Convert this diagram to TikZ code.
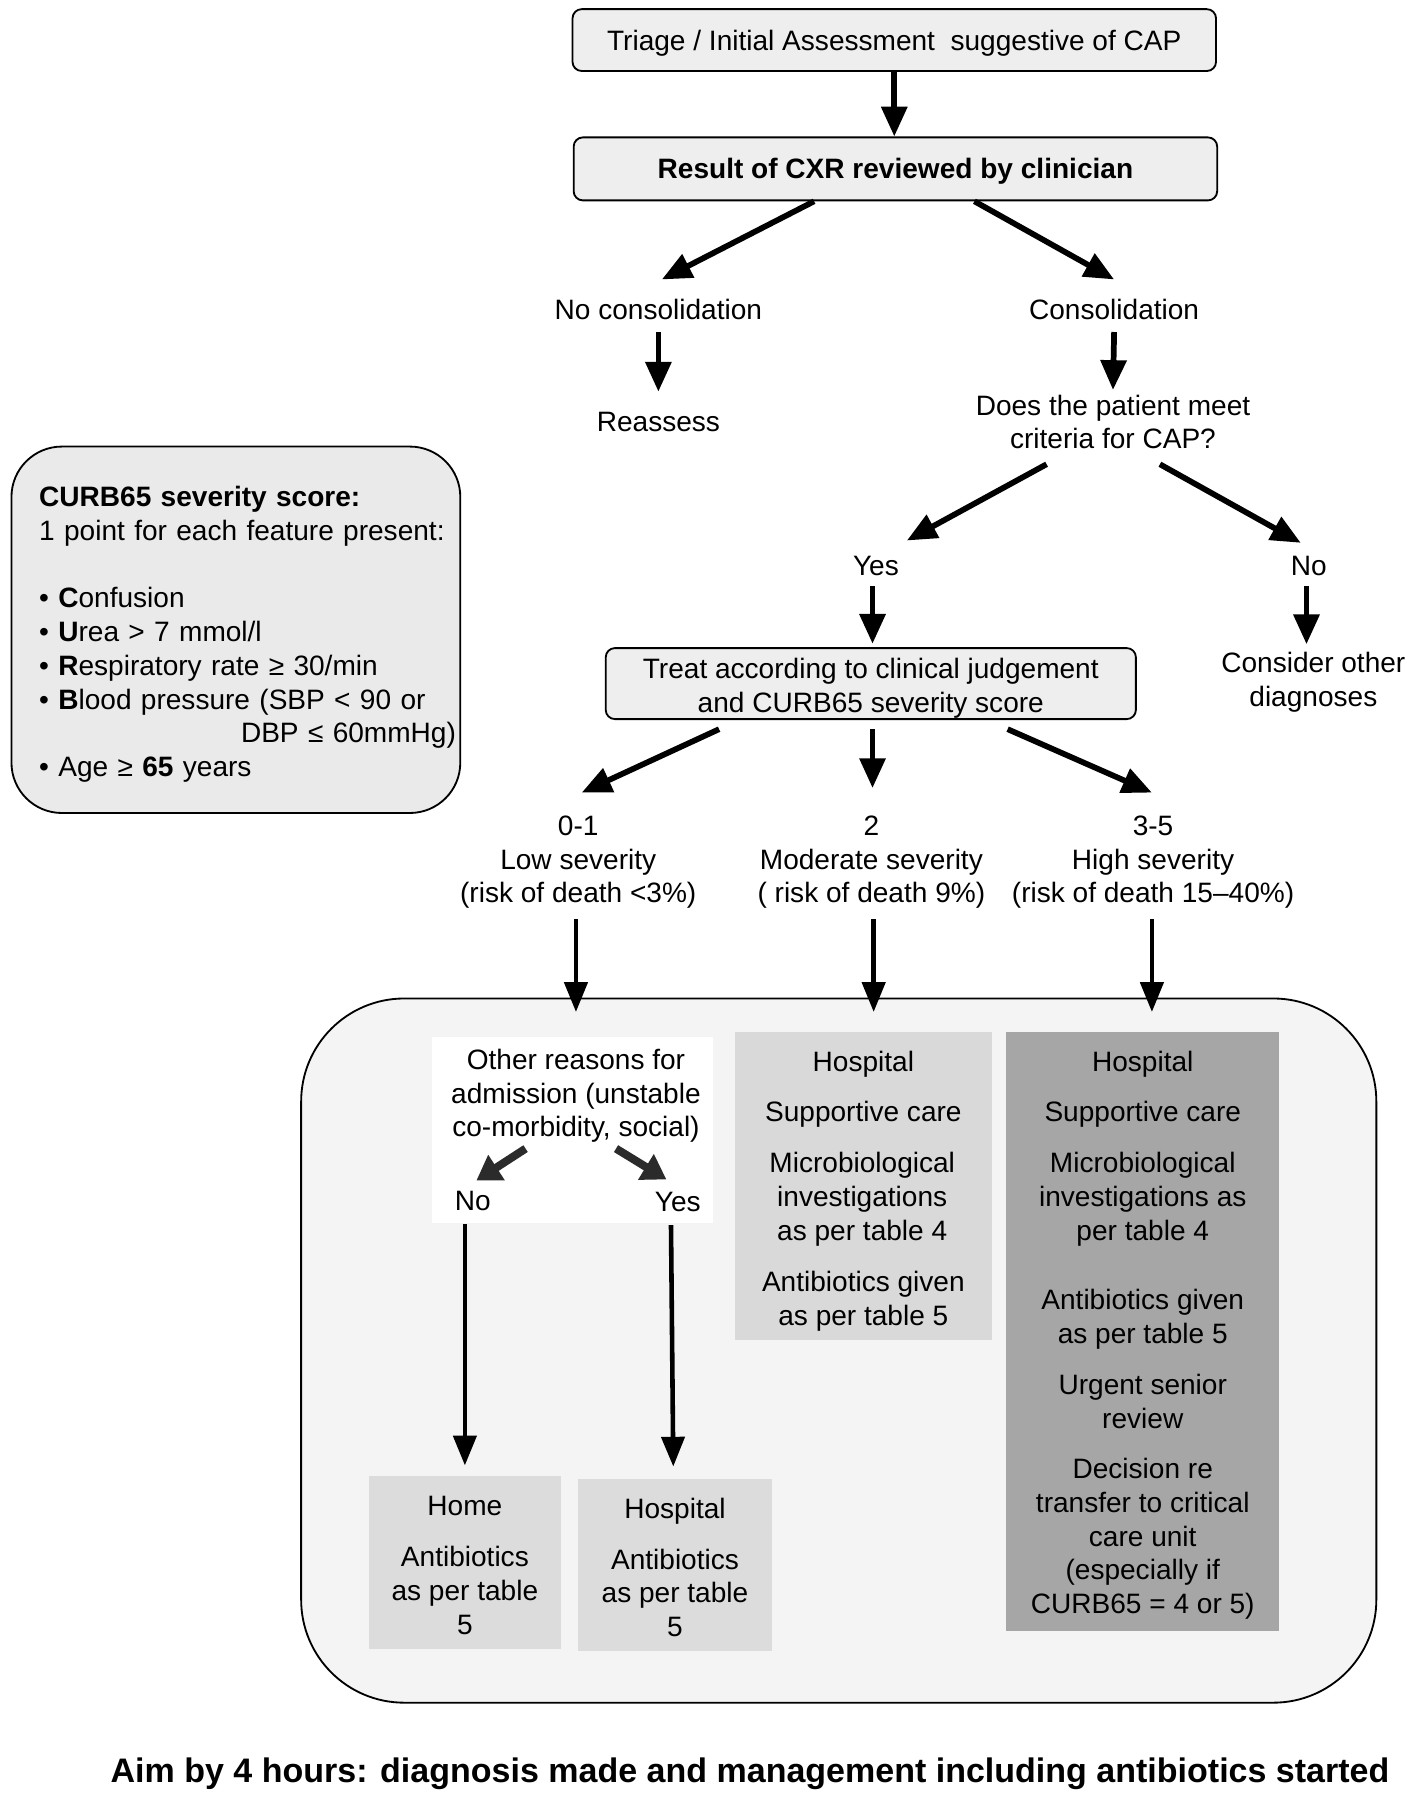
\documentclass[tikz,border=0pt]{standalone}
\usepackage{fontspec}
\setmainfont{Liberation Sans}
\usetikzlibrary{arrows.meta,positioning}

\definecolor{boxgrey}{HTML}{EEEEEE}
\definecolor{curbgrey}{HTML}{EAEAEA}
\definecolor{panelgrey}{HTML}{F4F4F4}
\definecolor{modgrey}{HTML}{D9D9D9}
\definecolor{lowgrey}{HTML}{DCDCDC}
\definecolor{highgrey}{HTML}{A6A6A6}
\definecolor{darkarrow}{HTML}{2B2B2B}

\newcommand{\chartfont}{\fontsize{24.5}{29.5}\selectfont}

\tikzset{
  txt/.style={align=center, inner sep=0pt, font=\chartfont},
  oneline/.style={txt, text height=17.5pt, text depth=0pt},
  flowbox/.style={txt, draw, line width=1.6pt, rounded corners=8pt, fill=boxgrey},
  shade/.style={inner sep=0pt, draw=none},
  bigarrow/.style={line width=5pt, -{Triangle[width=22pt,length=26pt]}},
  longarrow/.style={line width=4pt, -{Triangle[width=20pt,length=26pt]}},
  stubarrow/.style={line width=7pt, darkarrow, -{Triangle[width=25pt,length=21pt]}},
}

\begin{document}
\begin{tikzpicture}[x=1pt,y=-1pt]
\fill[white] (0,0) rectangle (1240,1572);
\useasboundingbox (0,0) rectangle (1240,1572);

% CURB65 legend
\node[shade, draw, line width=1.6pt, fill=curbgrey, rounded corners=44pt, minimum width=392pt, minimum height=320pt] (curb) at (206,550) {};
\node[txt, align=left, text width=364pt, anchor=north west] (curbtxt) at (34,424.25) {\textbf{CURB65 severity score:}\\
1 point for each feature present:\\[29.5pt]
• \textbf{C}onfusion\\
• \textbf{U}rea > 7 mmol/l\\
• \textbf{R}espiratory rate ≥ 30/min\\
• \textbf{B}lood pressure (SBP < 90 or\\
\mbox{}\hfill DBP ≤ 60mmHg)\\
• Age ≥ \textbf{65} years};

% upper flow
\node[flowbox, oneline, minimum width=562pt, minimum height=54pt] (triage) at (781,35) {Triage / Initial Assessment\ \ suggestive of CAP};
\node[flowbox, oneline, font=\chartfont\bfseries, minimum width=562pt, minimum height=55pt] (cxr) at (782,147.5) {Result of CXR reviewed by clinician};
\node[oneline] (nocons) at (575,270) {No consolidation};
\node[oneline] (cons) at (973,270) {Consolidation};
\node[oneline] (reassess) at (575,368) {Reassess};
\node[txt] (meet) at (972,368.5) {Does the patient meet\\criteria for CAP?};
\node[oneline] (yes) at (765,494) {Yes};
\node[oneline] (noC) at (1143,494) {No};
\node[flowbox, minimum width=463pt, minimum height=62pt] (treat) at (760.5,597) {\rule{0pt}{26pt}Treat according to clinical judgement\\and CURB65 severity score};
\node[txt] (other) at (1147,596) {Consider other\\diagnoses};
\node[txt] (low) at (505,753) {0-1\\Low severity\\(risk of death <3\%)};
\node[txt] (mod) at (761,753) {2\\Moderate severity\\( risk of death 9\%)};
\node[txt] (high) at (1007,753) {3-5\\High severity\\(risk of death 15–40\%)};

% management panel
\node[shade, draw, line width=1.6pt, fill=panelgrey, rounded corners=90pt, minimum width=939pt, minimum height=615pt] (mgmt) at (732.5,1179.5) {};
\node[shade, fill=white, minimum width=246pt, minimum height=162pt] (whitebox) at (500,987) {};
\node[shade, fill=modgrey, minimum width=224pt, minimum height=269pt] (modbox) at (754,1035.5) {};
\node[shade, fill=highgrey, minimum width=238pt, minimum height=523pt] (highbox) at (998,1162.5) {};
\node[shade, fill=lowgrey, minimum width=168pt, minimum height=151pt] (homebox) at (406,1364.5) {};
\node[shade, fill=lowgrey, minimum width=169pt, minimum height=150pt] (hospbox) at (589.5,1367) {};

\node[txt] (reasons) at (503,957) {Other reasons for\\admission (unstable\\co-morbidity, social)};
\node[oneline] (noB) at (413,1048) {No};
\node[oneline] (yesB) at (592,1049) {Yes};

\node[oneline] (modhosp) at (754,927) {Hospital};
\node[oneline] (modcare) at (754,971) {Supportive care};
\node[txt] (modmicro) at (753,1047.5) {Microbiological\\investigations\\as per table 4};
\node[txt] (modabx) at (754,1136.5) {Antibiotics given\\as per table 5};

\node[oneline] (highhosp) at (998,927) {Hospital};
\node[oneline] (highcare) at (998,971) {Supportive care};
\node[txt] (highmicro) at (998,1047.5) {Microbiological\\investigations as\\per table 4};
\node[txt] (highabx) at (998,1152) {Antibiotics given\\as per table 5};
\node[txt] (highurg) at (998,1224) {Urgent senior\\review};
\node[txt] (highdec) at (998,1344) {Decision re\\transfer to critical\\care unit\\(especially if\\CURB65 = 4 or 5)};

\node[oneline] (homehome) at (406,1315) {Home};
\node[txt] (homeabx) at (406,1389) {Antibiotics\\as per table\\5};
\node[oneline] (hosphosp) at (589.5,1317) {Hospital};
\node[txt] (hospabx) at (589.5,1391) {Antibiotics\\as per table\\5};

\node[oneline, text height=21pt, font=\fontsize{29.7}{34}\selectfont\bfseries] (aim) at (655,1546) {Aim by 4 hours: diagnosis made and management including antibiotics started};

% arrows
\draw[bigarrow] (triage.south) -- (triage.south |- cxr.north);
\draw[bigarrow] ([xshift=-71pt]cxr.south) -- ([xshift=3pt,yshift=17pt]nocons.north);
\draw[bigarrow] ([xshift=69pt]cxr.south) -- ([yshift=17pt]cons.north);
\draw[bigarrow] ([yshift=-11pt]nocons.south) -- ([yshift=17pt]reassess.north);
\draw[bigarrow] ([yshift=-11pt]cons.south) -- ([yshift=4pt]meet.north);
\draw[bigarrow] ([xshift=-58pt,yshift=-13pt]meet.south) -- ([xshift=27pt,yshift=13pt]yes.north);
\draw[bigarrow] ([xshift=41pt,yshift=-13pt]meet.south) -- ([xshift=-7pt,yshift=11pt]noC.north);
\draw[bigarrow] ([xshift=-3pt,yshift=-9pt]yes.south) -- ([xshift=1.5pt,yshift=3pt]treat.north);
\draw[bigarrow] ([xshift=-2pt,yshift=-9pt]noC.south) -- ([xshift=-6pt,yshift=7pt]other.north);
\draw[bigarrow] ([xshift=-132.5pt,yshift=-8pt]treat.south) -- ([xshift=3pt,yshift=20pt]low.north);
\draw[bigarrow] ([xshift=1.5pt,yshift=-8pt]treat.south) -- ([xshift=1pt,yshift=24pt]mod.north);
\draw[bigarrow] ([xshift=119.5pt,yshift=-8pt]treat.south) -- ([xshift=-1pt,yshift=20pt]high.north);

\draw[longarrow] ([xshift=-2pt,yshift=-9pt]low.south) -- ([xshift=3pt,yshift=22pt]whitebox.north);
\draw[longarrow] ([xshift=2pt,yshift=-9pt]mod.south) -- ([xshift=9pt,yshift=17pt]modbox.north);
\draw[longarrow] ([xshift=-1pt,yshift=-9pt]high.south) -- ([xshift=8pt,yshift=17pt]highbox.north);

\draw[stubarrow] ([xshift=-44pt,yshift=-5pt]reasons.south) -- ([xshift=3pt,yshift=8pt]noB.north);
\draw[stubarrow] ([xshift=35pt,yshift=-5pt]reasons.south) -- ([xshift=-10pt,yshift=10pt]yesB.north);
\draw[longarrow] ([xshift=-7pt,yshift=-12pt]noB.south) -- ([yshift=9pt]homebox.north);
\draw[longarrow] ([xshift=-6pt,yshift=-12pt]yesB.south) -- ([xshift=-1.5pt,yshift=11pt]hospbox.north);

\end{tikzpicture}
\end{document}
